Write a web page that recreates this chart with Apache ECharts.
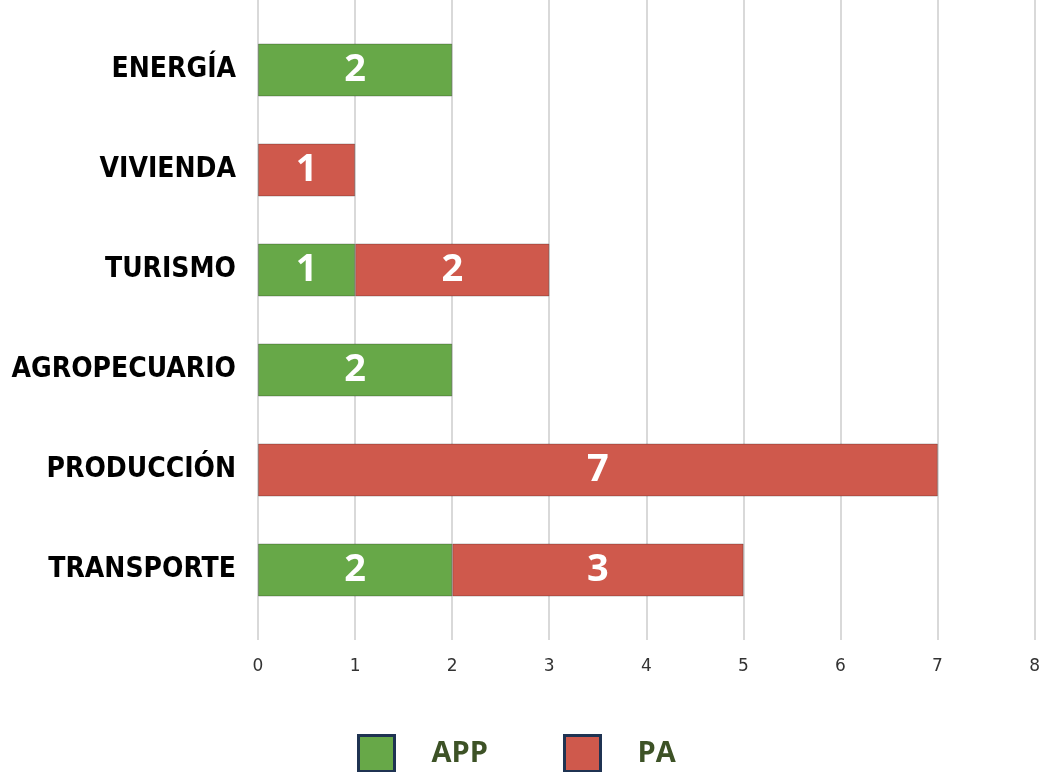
<!DOCTYPE html>
<html lang="es">
<head>
    <meta charset="UTF-8"/>
    <title>APP / PA por sector</title>
    <script src="https://cdn.jsdelivr.net/npm/echarts@6/dist/echarts.min.js"></script>
</head>
<body style="margin:0;background:#fff;">
<div id="main" style="width:1043px;height:772px;"></div>

<script type="text/javascript">
    // datos
    var sectores = ['ENERGÍA', 'VIVIENDA', 'TURISMO', 'AGROPECUARIO', 'PRODUCCIÓN', 'TRANSPORTE'];
    var app = [2, '-', 1, 2, '-', 2];
    var pa = ['-', 1, 2, '-', 7, 3];
    var ticks = [0, 1, 2, 3, 4, 5, 6, 7, 8];

    var verde = '#67a848';
    var rojo = '#cf594c';

    var myChart = echarts.init(document.getElementById('main'));

    var barLabel = {
        show: true,
        position: 'inside',
        color: '#fff',
        fontFamily: 'Open Sans',
        fontWeight: 'bold',
        fontSize: 38
    };

    var legendText = {
        color: '#3d5226',
        fontFamily: 'Open Sans',
        fontWeight: 'bold',
        fontSize: 29,
        padding: [0, 0, 0, 32]
    };

    var option = {
        animation: false,
        legend: [
            {
                data: ['APP'], left: 352, top: 729, itemWidth: 36, itemHeight: 36,
                icon: 'rect', textStyle: legendText,
                itemStyle: { borderColor: '#1f3352', borderWidth: 3 }
            },
            {
                data: ['PA'], left: 558, top: 729, itemWidth: 36, itemHeight: 36,
                icon: 'rect', textStyle: legendText,
                itemStyle: { borderColor: '#1f3352', borderWidth: 3 }
            }
        ],
        grid: [
            { left: 258, right: 8, top: 20, height: 600 },
            { left: 258, right: 8, top: 0, height: 640 }
        ],
        xAxis: [
            {
                gridIndex: 0, type: 'value', min: 0, max: 8, interval: 1,
                show: false
            },
            {
                gridIndex: 1, type: 'value', min: ticks[0], max: ticks[ticks.length - 1], interval: 1,
                axisLine: { show: false },
                axisTick: { show: false },
                splitLine: { show: true, lineStyle: { color: '#cccccc', width: 1.5 } },
                axisLabel: {
                    margin: 18, color: '#333', fontFamily: 'DejaVu Sans', fontSize: 17,
                    formatter: function (v) { return ticks.indexOf(v) >= 0 ? String(v) : ''; }
                }
            }
        ],
        yAxis: [
            {
                gridIndex: 0, type: 'category', data: sectores, inverse: true,
                axisLine: { show: false },
                axisTick: { show: false },
                axisLabel: {
                    margin: 22, color: '#000', fontFamily: 'DejaVu Sans Condensed',
                    fontWeight: 'bold', fontSize: 28
                }
            },
            { gridIndex: 1, type: 'value', min: 0, max: 1, show: false }
        ],
        series: [
            {
                name: 'APP', type: 'bar', stack: 'total', data: app, barWidth: 53,
                xAxisIndex: 0, yAxisIndex: 0,
                itemStyle: { color: verde, borderColor: 'rgba(0,0,0,0.25)', borderWidth: 1 },
                label: barLabel
            },
            {
                name: 'PA', type: 'bar', stack: 'total', data: pa, barWidth: 53,
                xAxisIndex: 0, yAxisIndex: 0,
                itemStyle: { color: rojo, borderColor: 'rgba(0,0,0,0.25)', borderWidth: 1 },
                label: barLabel
            }
        ]
    };

    myChart.setOption(option);
</script>
</body>
</html>
